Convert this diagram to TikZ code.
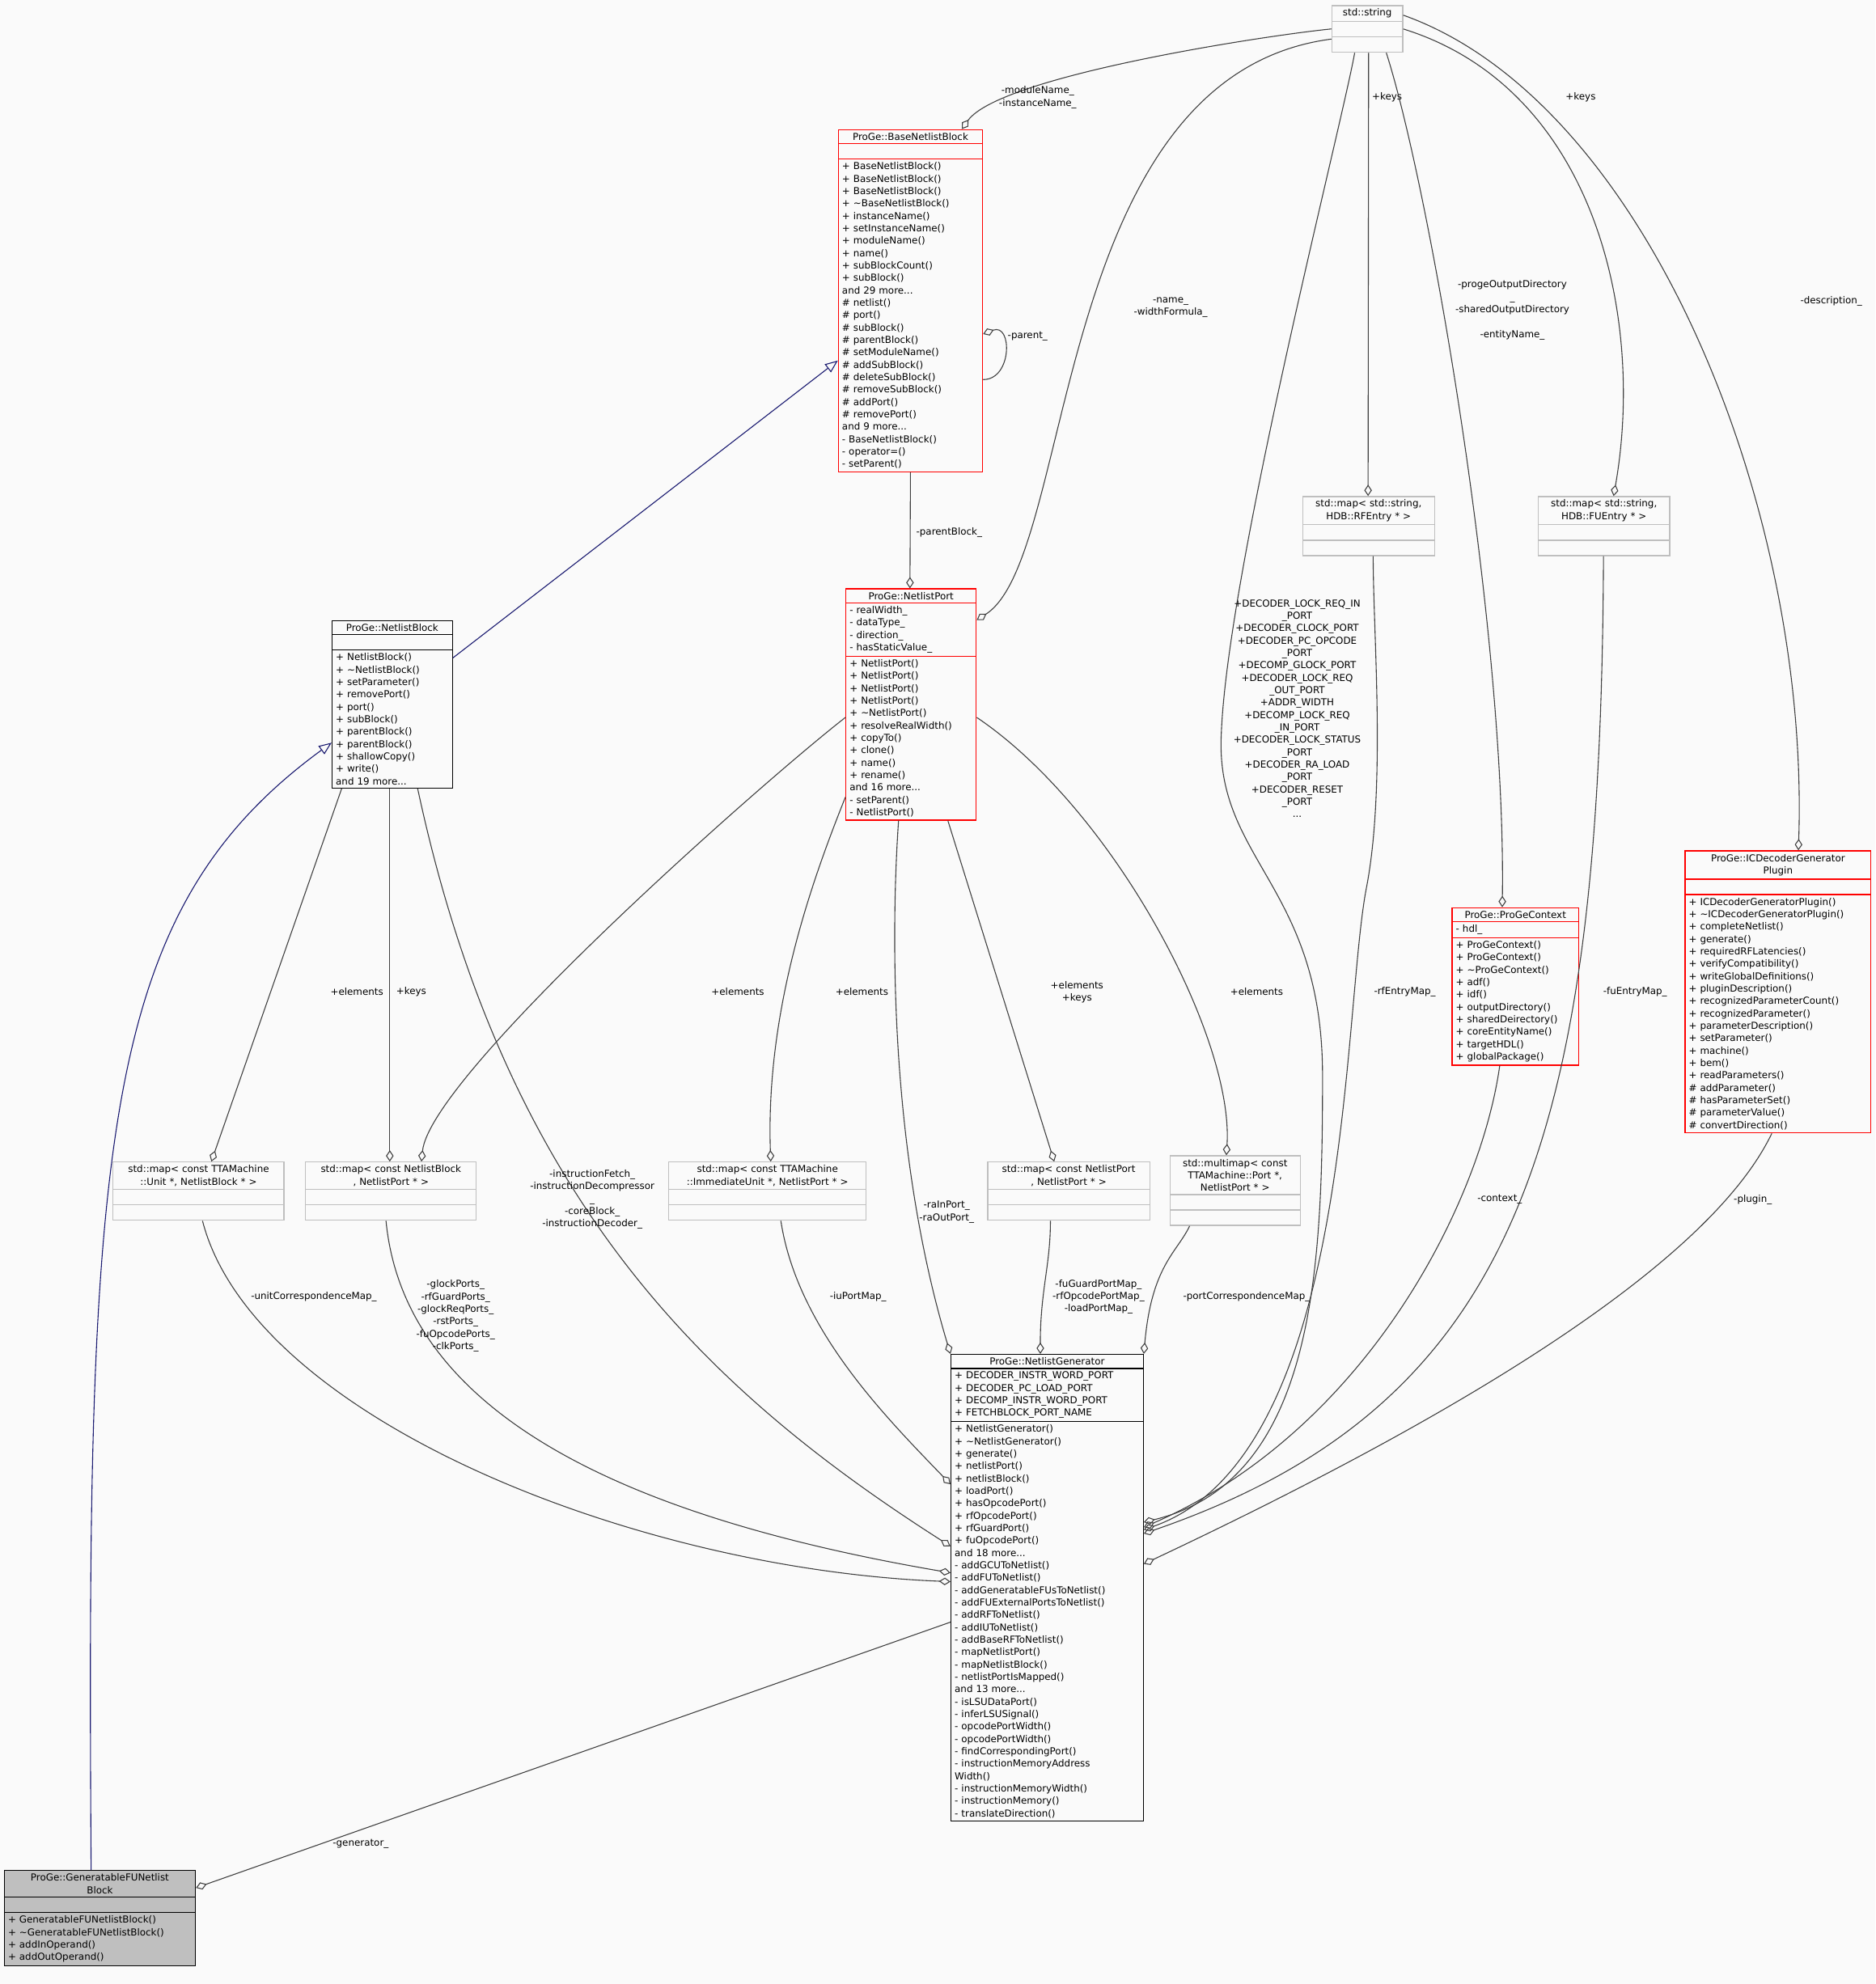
\documentclass[tikz,border=0pt]{standalone}
\usepackage{fontspec}
\setmainfont{DejaVu Sans}
\usetikzlibrary{shapes.multipart,arrows.meta}
\newcommand\dfont{\fontsize{7.6}{9.8}\selectfont}
\newcommand\ttl[1]{\parbox{\linewidth}{\centering #1}}
\newcommand\emp{\rule{0pt}{7pt}}
\definecolor{edgec}{HTML}{404040}
\definecolor{grayb}{HTML}{BFBFBF}
\definecolor{redb}{HTML}{FF0000}
\definecolor{navyc}{HTML}{191970}
\definecolor{fillg}{HTML}{BFBFBF}
\begin{document}
\begin{tikzpicture}[x=1pt,y=-1pt,
 cls/.style={rectangle split,rectangle split parts=3,draw,line width=0.8pt,anchor=north west,inner xsep=3pt,inner ysep=2.2pt,font=\dfont,align=left},
 sbox/.style={cls,draw=grayb},
 rbox/.style={cls,draw=redb},
 agg/.style={draw=edgec,line width=0.7pt,{Diamond[open,length=9pt,width=6pt]}-},
 inh/.style={draw=navyc,line width=0.7pt,-{Triangle[open,length=10pt,width=8pt]}},
 lbl/.style={font=\dfont,align=center,inner sep=0pt}]
\useasboundingbox (0,0) rectangle (1482,1568);
\fill[white!98!black] (0,0) rectangle (1482,1568);

\node[sbox,text width=50pt] (str) at (1052,4) {\ttl{std::string}\nodepart{two}\emp\nodepart{three}\emp};
\node[rbox,text width=108pt] (base) at (662,102) {\ttl{ProGe::BaseNetlistBlock}\nodepart{two}\emp\nodepart{three}
+ BaseNetlistBlock()\\+ BaseNetlistBlock()\\+ BaseNetlistBlock()\\+ \textasciitilde BaseNetlistBlock()\\+ instanceName()\\+ setInstanceName()\\+ moduleName()\\+ name()\\+ subBlockCount()\\+ subBlock()\\and 29 more...\\\# netlist()\\\# port()\\\# subBlock()\\\# parentBlock()\\\# setModuleName()\\\# addSubBlock()\\\# deleteSubBlock()\\\# removeSubBlock()\\\# addPort()\\\# removePort()\\and 9 more...\\- BaseNetlistBlock()\\- operator=()\\- setParent()};
\node[cls,text width=89pt] (nb) at (262,490) {\ttl{ProGe::NetlistBlock}\nodepart{two}\emp\nodepart{three}
+ NetlistBlock()\\+ \textasciitilde NetlistBlock()\\+ setParameter()\\+ removePort()\\+ port()\\+ subBlock()\\+ parentBlock()\\+ parentBlock()\\+ shallowCopy()\\+ write()\\and 19 more...};
\node[rbox,text width=97pt] (np) at (668,465) {\ttl{ProGe::NetlistPort}\nodepart{two}- realWidth\_\\- dataType\_\\- direction\_\\- hasStaticValue\_\nodepart{three}
+ NetlistPort()\\+ NetlistPort()\\+ NetlistPort()\\+ NetlistPort()\\+ \textasciitilde NetlistPort()\\+ resolveRealWidth()\\+ copyTo()\\+ clone()\\+ name()\\+ rename()\\and 16 more...\\- setParent()\\- NetlistPort()};
\node[sbox,text width=98pt] (rf) at (1029,392) {\ttl{std::map< std::string,\\HDB::RFEntry * >}\nodepart{two}\emp\nodepart{three}\emp};
\node[sbox,text width=98pt] (fu) at (1215,392) {\ttl{std::map< std::string,\\HDB::FUEntry * >}\nodepart{two}\emp\nodepart{three}\emp};
\node[rbox,text width=94pt] (pc) at (1147,717) {\ttl{ProGe::ProGeContext}\nodepart{two}- hdl\_\nodepart{three}
+ ProGeContext()\\+ ProGeContext()\\+ \textasciitilde ProGeContext()\\+ adf()\\+ idf()\\+ outputDirectory()\\+ sharedDeirectory()\\+ coreEntityName()\\+ targetHDL()\\+ globalPackage()};
\node[rbox,text width=141pt] (ic) at (1331,672) {\ttl{ProGe::ICDecoderGenerator\\Plugin}\nodepart{two}\emp\nodepart{three}
+ ICDecoderGeneratorPlugin()\\+ \textasciitilde ICDecoderGeneratorPlugin()\\+ completeNetlist()\\+ generate()\\+ requiredRFLatencies()\\+ verifyCompatibility()\\+ writeGlobalDefinitions()\\+ pluginDescription()\\+ recognizedParameterCount()\\+ recognizedParameter()\\+ parameterDescription()\\+ setParameter()\\+ machine()\\+ bem()\\+ readParameters()\\\# addParameter()\\\# hasParameterSet()\\\# parameterValue()\\\# convertDirection()};
\node[sbox,text width=129pt] (mu) at (89,918) {\ttl{std::map< const TTAMachine\\::Unit *, NetlistBlock * >}\nodepart{two}\emp\nodepart{three}\emp};
\node[sbox,text width=129pt] (mb) at (241,918) {\ttl{std::map< const NetlistBlock\\*, NetlistPort * >}\nodepart{two}\emp\nodepart{three}\emp};
\node[sbox,text width=150pt] (mi) at (528,918) {\ttl{std::map< const TTAMachine\\::ImmediateUnit *, NetlistPort * >}\nodepart{two}\emp\nodepart{three}\emp};
\node[sbox,text width=122pt] (mp) at (780,918) {\ttl{std::map< const NetlistPort\\*, NetlistPort * >}\nodepart{two}\emp\nodepart{three}\emp};
\node[sbox,text width=97pt] (mm) at (924,913) {\ttl{std::multimap< const\\TTAMachine::Port *,\\NetlistPort * >}\nodepart{two}\emp\nodepart{three}\emp};
\node[cls,text width=146pt] (gen) at (751,1070) {\ttl{ProGe::NetlistGenerator}\nodepart{two}+ DECODER\_INSTR\_WORD\_PORT\\+ DECODER\_PC\_LOAD\_PORT\\+ DECOMP\_INSTR\_WORD\_PORT\\+ FETCHBLOCK\_PORT\_NAME\nodepart{three}
+ NetlistGenerator()\\+ \textasciitilde NetlistGenerator()\\+ generate()\\+ netlistPort()\\+ netlistBlock()\\+ loadPort()\\+ hasOpcodePort()\\+ rfOpcodePort()\\+ rfGuardPort()\\+ fuOpcodePort()\\and 18 more...\\- addGCUToNetlist()\\- addFUToNetlist()\\- addGeneratableFUsToNetlist()\\- addFUExternalPortsToNetlist()\\- addRFToNetlist()\\- addIUToNetlist()\\- addBaseRFToNetlist()\\- mapNetlistPort()\\- mapNetlistBlock()\\- netlistPortIsMapped()\\and 13 more...\\- isLSUDataPort()\\- inferLSUSignal()\\- opcodePortWidth()\\- opcodePortWidth()\\- findCorrespondingPort()\\- instructionMemoryAddress\\Width()\\- instructionMemoryWidth()\\- instructionMemory()\\- translateDirection()};
\node[cls,fill=fillg,text width=145pt] (gf) at (3,1478) {\ttl{ProGe::GeneratableFUNetlist\\Block}\nodepart{two}\emp\nodepart{three}
+ GeneratableFUNetlistBlock()\\+ \textasciitilde GeneratableFUNetlistBlock()\\+ addInOperand()\\+ addOutOperand()};

% inheritance
\draw[inh] ([yshift=-30pt]nb.north east) -- ([yshift=-183pt]base.north west);
\draw[inh] ([xshift=69pt]gf.north west) .. controls (68,900) and (80,720) .. ([yshift=-97pt]nb.north west);

% aggregations
\draw[agg] ([yshift=-162pt]base.north east) .. controls (800,255) and (800,300) .. ([yshift=-198pt]base.north east);
\node[lbl] (l1) at (812,266) {-parent\_};
\draw[agg] ([xshift=98pt]base.north west) .. controls (790,60) and (1000,28) .. (str.west);
\node[lbl] (l2) at (820,77) {-moduleName\_\\-instanceName\_};
\draw[agg] ([yshift=-25pt]np.north east) .. controls (850,440) and (830,60) .. ([yshift=-8pt]str.west);
\node[lbl] (l3) at (925,243) {-name\_\\-widthFormula\_};
\draw[agg] ([yshift=-133pt]gen.north east) .. controls (1040,1170) and (1045,1000) .. (1045,850) .. controls (1045,700) and (960,680) .. (965,580) .. controls (970,450) and (1060,100) .. ([xshift=-10pt]str.south);
\node[lbl] (l4) at (1025,560) {+DECODER\_LOCK\_REQ\_IN\\\_PORT\\+DECODER\_CLOCK\_PORT\\+DECODER\_PC\_OPCODE\\\_PORT\\+DECOMP\_GLOCK\_PORT\\+DECODER\_LOCK\_REQ\\\_OUT\_PORT\\+ADDR\_WIDTH\\+DECOMP\_LOCK\_REQ\\\_IN\_PORT\\+DECODER\_LOCK\_STATUS\\\_PORT\\+DECODER\_RA\_LOAD\\\_PORT\\+DECODER\_RESET\\\_PORT\\...};
\draw[agg] ([xshift=52pt]rf.north west) -- ([xshift=1pt]str.south);
\node[lbl] (l5) at (1096,77) {+keys};
\draw[agg] ([xshift=60pt]fu.north west) .. controls (1300,250) and (1260,70) .. (str.east);
\node[lbl] (l6) at (1249,77) {+keys};
\draw[agg] ([xshift=40pt]pc.north west) .. controls (1190,500) and (1130,150) .. ([xshift=15pt]str.south);
\node[lbl] (l7) at (1195,245) {-progeOutputDirectory\\\_\\-sharedOutputDirectory\\\mbox{}\\-entityName\_};
\draw[agg] ([xshift=90pt]ic.north west) .. controls (1430,400) and (1300,80) .. ([yshift=-8pt]str.north east);
\node[lbl] (l8) at (1447,238) {-description\_};
\draw[agg] ([xshift=51pt]np.north west) -- (base.south);
\node[lbl] (l9) at (750,421) {-parentBlock\_};
\draw[agg] ([xshift=78pt]mu.north west) -- ([xshift=8pt]nb.south west);
\node[lbl] (l10) at (282,784) {+elements};
\draw[agg] ([xshift=67pt]mb.north west) -- ([xshift=46pt]nb.south west);
\node[lbl] (l11) at (325,784) {+keys};
\draw[agg] ([xshift=92pt]mb.north west) .. controls (340,850) and (600,620) .. ([yshift=-102pt]np.north west);
\node[lbl] (l12) at (583,784) {+elements};
\draw[agg] ([xshift=81pt]mi.north west) .. controls (605,800) and (640,700) .. ([yshift=-165pt]np.north west);
\node[lbl] (l13) at (681,784) {+elements};
\draw[agg] ([xshift=53pt]mp.north west) -- ([xshift=81pt]np.south west);
\node[lbl] (l14) at (851,784) {+elements\\+keys};
\draw[agg] ([xshift=45pt]mm.north west) .. controls (975,820) and (880,640) .. ([yshift=-102pt]np.north east);
\node[lbl] (l15) at (993,784) {+elements};
\draw[agg] (gen.north west) .. controls (700,900) and (705,720) .. ([xshift=42pt]np.south west);
\node[lbl] (l16) at (748,958) {-raInPort\_\\-raOutPort\_};
\draw[agg] ([yshift=-152pt]gen.north west) .. controls (560,1100) and (400,950) .. ([xshift=68pt]nb.south west);
\node[lbl] (l17) at (468,948) {-instructionFetch\_\\-instructionDecompressor\\\_\\-coreBlock\_\\-instructionDecoder\_};
\draw[agg] ([yshift=-180pt]gen.north west) .. controls (500,1240) and (200,1120) .. ([xshift=71pt]mu.south west);
\node[lbl] (l18) at (248,1025) {-unitCorrespondenceMap\_};
\draw[agg] ([yshift=-173pt]gen.north west) .. controls (500,1200) and (320,1120) .. ([xshift=64pt]mb.south west);
\node[lbl] (l19) at (360,1040) {-glockPorts\_\\-rfGuardPorts\_\\-glockReqPorts\_\\-rstPorts\_\\-fuOpcodePorts\_\\-clkPorts\_};
\draw[agg] ([yshift=-103pt]gen.north west) .. controls (700,1120) and (630,1050) .. ([xshift=89pt]mi.south west);
\node[lbl] (l20) at (678,1025) {-iuPortMap\_};
\draw[agg] ([xshift=71pt]gen.north west) .. controls (822,1020) and (830,1000) .. ([xshift=50pt]mp.south west);
\node[lbl] (l21) at (868,1025) {-fuGuardPortMap\_\\-rfOpcodePortMap\_\\-loadPortMap\_};
\draw[agg] (gen.north east) .. controls (910,1000) and (930,990) .. ([xshift=16pt]mm.south west);
\node[lbl] (l22) at (985,1025) {-portCorrespondenceMap\_};
\draw[agg] ([yshift=-139pt]gen.north east) .. controls (1070,1150) and (1060,800) .. (1080,700) .. controls (1095,620) and (1085,500) .. ([xshift=56pt]rf.south west);
\node[lbl] (l23) at (1110,784) {-rfEntryMap\_};
\draw[agg] ([yshift=-142pt]gen.north east) .. controls (1200,1110) and (1265,900) .. ([xshift=52pt]fu.south west);
\node[lbl] (l24) at (1292,784) {-fuEntryMap\_};
\draw[agg] ([yshift=-137pt]gen.north east) .. controls (1080,1130) and (1170,950) .. ([xshift=38pt]pc.south west);
\node[lbl] (l25) at (1185,948) {-context\_};
\draw[agg] ([yshift=-166pt]gen.north east) .. controls (1150,1120) and (1350,1000) .. ([xshift=69pt]ic.south west);
\node[lbl] (l26) at (1385,948) {-plugin\_};
\draw[agg] ([yshift=-14pt]gf.north east) -- ([yshift=-212pt]gen.north west);
\node[lbl] (l27) at (285,1457) {-generator\_};
\end{tikzpicture}
\end{document}
